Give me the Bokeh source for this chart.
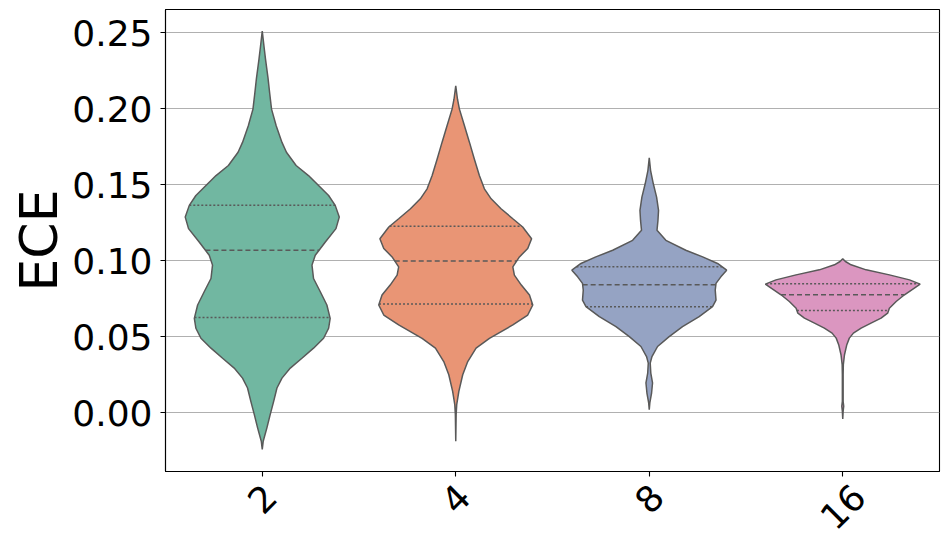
import math
import numpy as np
from bokeh.plotting import figure
from bokeh.models import (FixedTicker, Range1d, NumeralTickFormatter, LinearAxis,
                          CustomLabelingPolicy)
from bokeh.embed import file_html
from bokeh.resources import INLINE

# ---- data ----
categories = ["2", "4", "8", "16"]
colors = ["#71b7a1", "#e99575", "#95a3c3", "#db96c0"]

# violin profiles: ECE value (y) and half-width (in category units)
y_2 = [0.2511, 0.2400, 0.2325, 0.2200, 0.2107, 0.1998, 0.1889, 0.1779, 0.1714, 0.1627,
       0.1561, 0.1496, 0.1430, 0.1365, 0.1288, 0.1212, 0.1124, 0.1037, 0.0972, 0.0884,
       0.0797, 0.0710, 0.0622, 0.0557, 0.0491, 0.0426, 0.0360, 0.0295, 0.0229, 0.0164,
       0.0076, -0.0011, -0.0098, -0.0186, -0.0240]
w_2 = [0.0, 0.010, 0.017, 0.030, 0.038, 0.048, 0.072, 0.102, 0.125, 0.175,
       0.239, 0.291, 0.343, 0.377, 0.398, 0.381, 0.326, 0.274, 0.257, 0.265,
       0.300, 0.334, 0.351, 0.343, 0.317, 0.265, 0.205, 0.145, 0.102, 0.076,
       0.059, 0.041, 0.024, 0.005, 0.0]

y_4 = [0.2151, 0.2063, 0.1998, 0.1889, 0.1779, 0.1670, 0.1561, 0.1474, 0.1408, 0.1343,
       0.1277, 0.1223, 0.1146, 0.1081, 0.1026, 0.0961, 0.0906, 0.0841, 0.0775, 0.0710,
       0.0644, 0.0579, 0.0491, 0.0426, 0.0338, 0.0251, 0.0142, 0.0055, -0.0011, -0.0186]
w_4 = [0.0, 0.009, 0.019, 0.045, 0.071, 0.096, 0.122, 0.148, 0.183, 0.234,
       0.295, 0.346, 0.392, 0.372, 0.329, 0.295, 0.303, 0.339, 0.381, 0.398,
       0.372, 0.295, 0.174, 0.105, 0.062, 0.036, 0.016, 0.005, 0.002, 0.0]

y_8 = [0.1677, 0.1594, 0.1507, 0.1419, 0.1332, 0.1266, 0.1201, 0.1135, 0.1070, 0.1026,
       0.0983, 0.0939, 0.0895, 0.0852, 0.0808, 0.0742, 0.0699, 0.0633, 0.0568, 0.0502,
       0.0437, 0.0371, 0.0328, 0.0262, 0.0197, 0.0131, 0.0066, 0.0022]
w_8 = [0.0, 0.007, 0.021, 0.038, 0.048, 0.045, 0.040, 0.086, 0.189, 0.276,
       0.353, 0.400, 0.370, 0.345, 0.341, 0.345, 0.327, 0.258, 0.172, 0.103,
       0.043, 0.014, 0.005, 0.008, 0.017, 0.012, 0.003, 0.0]

y_16 = [0.1013, 0.0996, 0.0974, 0.0941, 0.0908, 0.0875, 0.0847, 0.0821, 0.0777, 0.0733,
        0.0689, 0.0656, 0.0624, 0.0591, 0.0558, 0.0525, 0.0492, 0.0449, 0.0383, 0.0317,
        0.0252, 0.0077, 0.0044, 0.0011, -0.0039]
w_16 = [0.0, 0.014, 0.043, 0.121, 0.241, 0.345, 0.400, 0.370, 0.319, 0.276,
        0.241, 0.232, 0.198, 0.146, 0.095, 0.055, 0.034, 0.021, 0.009, 0.003,
        0.002, 0.002, 0.005, 0.002, 0.0]

# quartiles: q1, median, q3
quart_2 = [0.0627, 0.1070, 0.1365]
quart_4 = [0.0716, 0.1000, 0.1227]
quart_8 = [0.0699, 0.0843, 0.0961]
quart_16 = [0.0674, 0.0777, 0.0849]

y_ticks = [0.0, 0.05, 0.10, 0.15, 0.20, 0.25]

profiles = [(y_2, w_2, quart_2), (y_4, w_4, quart_4),
            (y_8, w_8, quart_8), (y_16, w_16, quart_16)]

# ---- figure ----
W = 949
B_LEFT, B_RIGHT = 165, 10
p = figure(width=W, height=553, output_backend="svg", toolbar_location=None,
           x_range=Range1d(-0.5, 3.5), y_range=Range1d(-0.0385, 0.2653),
           min_border_left=B_LEFT, min_border_right=B_RIGHT, min_border_top=9,
           min_border_bottom=82)

p.background_fill_color = "white"
p.border_fill_color = "white"
p.outline_line_color = "black"
p.outline_line_width = 1.1
p.xgrid.grid_line_color = None
p.ygrid.grid_line_color = "#b0b0b0"
p.ygrid.grid_line_width = 1.1
p.ygrid.ticker = FixedTicker(ticks=y_ticks)

edge = "#595959"

for i, (ys, ws, qs) in enumerate(profiles):
    ys = np.asarray(ys)
    ws = np.asarray(ws)
    xs = np.concatenate([i + ws, (i - ws)[::-1]])
    yy = np.concatenate([ys, ys[::-1]])
    p.patch(xs, yy, fill_color=colors[i], line_color=edge, line_width=1.5)
    ys_asc = ys[::-1]
    ws_asc = ws[::-1]
    for k, q in enumerate(qs):
        hw = float(np.interp(q, ys_asc, ws_asc))
        dash = "5 3" if k == 1 else "2 2"
        p.line([i - hw, i + hw], [q, q], line_color=edge, line_width=1.5,
               line_dash=dash)

# axes
FS = 36
# main x axis: tick marks only (its labels are suppressed by the policy)
p.xaxis.ticker = FixedTicker(ticks=[0, 1, 2, 3])
p.xaxis.major_label_policy = CustomLabelingPolicy(code="return new Set()")
p.xaxis.major_label_text_font_size = "0px"
p.xaxis.major_label_standoff = 0
p.yaxis.ticker = FixedTicker(ticks=y_ticks)
p.yaxis.formatter = NumeralTickFormatter(format="0.00")
p.yaxis.axis_label = "ECE"

for ax in (p.xaxis[0], p.yaxis[0]):
    ax.axis_line_color = "black"
    ax.axis_line_width = 1.1
    ax.major_tick_out = 5
    ax.major_tick_in = 0
    ax.major_tick_line_color = "black"
    ax.major_tick_line_width = 1.1
    ax.minor_tick_line_color = None
    ax.axis_label_text_font = "DejaVu Sans"
    ax.axis_label_text_font_style = "normal"
    ax.axis_label_text_font_size = "52px"
    ax.axis_label_text_color = "black"

p.yaxis.major_label_text_font = "DejaVu Sans"
p.yaxis.major_label_text_font_size = f"{FS}px"
p.yaxis.major_label_text_color = "black"
p.yaxis.major_label_standoff = 8
p.yaxis.axis_label_standoff = 0

# label-only axis: Bokeh right-aligns rotated labels at the anchor, so each
# anchor is moved right by half the rotated text length to centre it on its tick
px_per_cat = (W - B_LEFT - B_RIGHT) / 4.0
shift = [len(c) * 0.636 * FS / 2 * math.sqrt(0.5) / px_per_cat for c in categories]
label_pos = [i + s for i, s in enumerate(shift)]
lab_axis = LinearAxis(ticker=FixedTicker(ticks=label_pos),
                      major_label_overrides={pos: c for pos, c in zip(label_pos, categories)},
                      major_label_orientation=math.pi / 4,
                      axis_line_color=None, major_tick_line_color=None,
                      minor_tick_line_color=None, major_tick_out=0, major_tick_in=0,
                      major_label_standoff=14,
                      major_label_text_font="DejaVu Sans",
                      major_label_text_font_size=f"{FS}px",
                      major_label_text_color="black")
p.add_layout(lab_axis, "below")

open("out.html", "w").write(file_html(p, INLINE))
